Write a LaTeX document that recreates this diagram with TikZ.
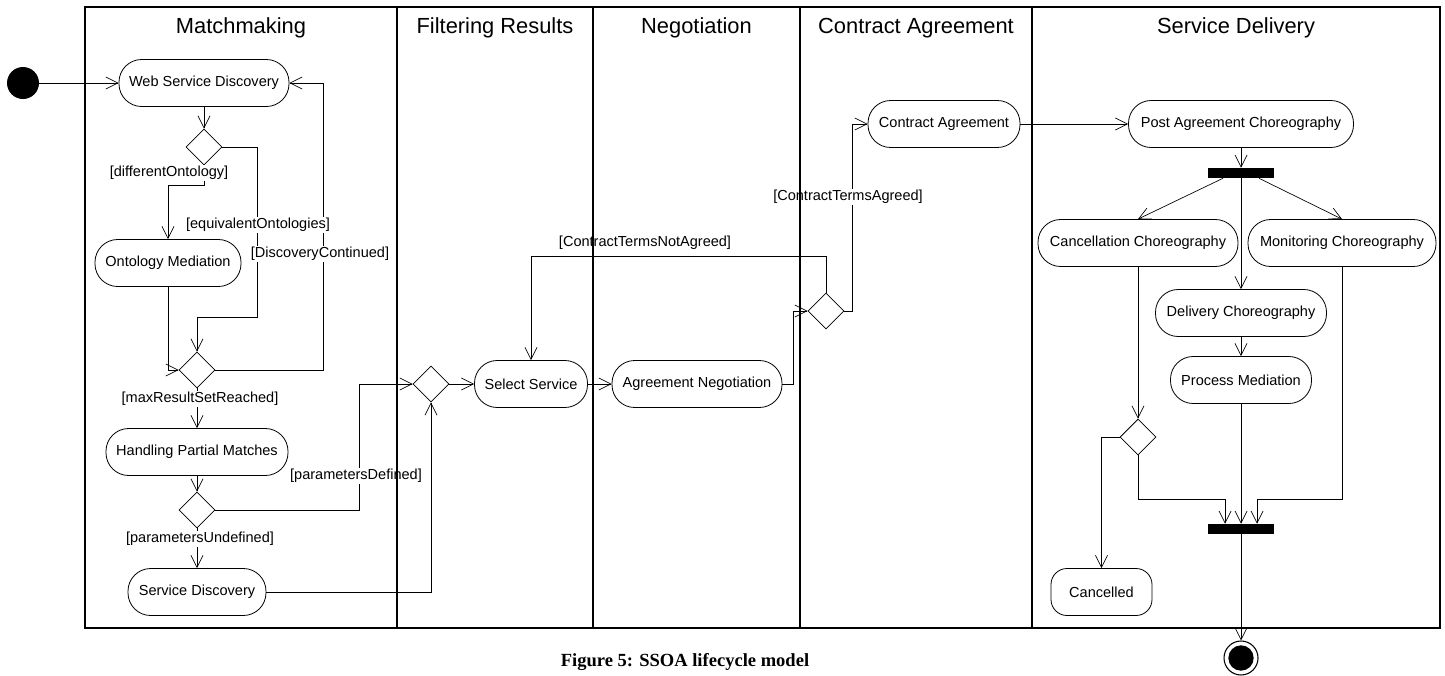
\documentclass[tikz,border=0pt]{standalone}
\usepackage{fontspec}
\setmainfont{Liberation Sans}
\newfontfamily\capfont{Liberation Serif}
\usetikzlibrary{shapes.geometric,arrows.meta}
\begin{document}
\begin{tikzpicture}[x=0.75pt,y=-0.75pt,
  act/.style={draw, fill=white, rounded corners=17pt, minimum height=35.25pt,
    minimum width={#1*0.75pt}, inner sep=0pt, line width=0.6pt,
    font=\fontsize{10.9}{12}\selectfont},
  dia/.style={draw, fill=white, diamond, aspect=1, minimum width=27pt,
    minimum height=27pt, inner sep=0pt, line width=0.6pt},
  bar/.style={fill=black, minimum width=50pt, minimum height=7.5pt, inner sep=0pt},
  conn/.style={-{Straight Barb[length=9pt,width=9pt]}, line width=0.5pt},
  guard/.style={fill=white, inner sep=0.6pt, font=\fontsize{10.9}{12}\selectfont},
  plain/.style={inner sep=0.6pt, font=\fontsize{10.9}{12}\selectfont},
  lanetitle/.style={font=\fontsize{16.4}{18}\selectfont},
  frame/.style={line width=1.3pt}
]
\useasboundingbox[fill=white] (0,0) rectangle (1445,675);

% start / end
\node[circle, fill=black, minimum size=24pt, inner sep=0pt] (init) at (23,83) {};
\node[circle, draw, minimum size=25.5pt, inner sep=0pt, line width=0.8pt, fill=white] (final) at (1241,658) {};
\fill (final.center) circle (9.5pt);

% activities
\node[act=170] (wsd) at (204,83) {Web Service Discovery};
\node[act=146] (om)  at (168,263) {Ontology Mediation};
\node[act=182] (hpm) at (197,452) {Handling Partial Matches};
\node[act=138] (sd)  at (197,592) {Service Discovery};
\node[act=113] (ss)  at (531,384) {Select Service};
\node[act=170] (an)  at (697,384) {Agreement Negotiation};
\node[act=152] (ca)  at (944,124) {Contract Agreement};
\node[act=225] (pac) at (1241,124) {Post Agreement Choreography};
\node[act=200] (cc)  at (1138,243) {Cancellation Choreography};
\node[act=188] (mc)  at (1342,243) {Monitoring Choreography};
\node[act=171] (dch) at (1241,313) {Delivery Choreography};
\node[act=141] (pm)  at (1241,380) {Process Mediation};
\node[act=101, rounded corners=12pt] (cn) at (1101.5,592) {Cancelled};

% decisions
\node[dia] (d1) at (204,147) {};
\node[dia] (d2) at (197,370) {};
\node[dia] (d3) at (197,510) {};
\node[dia] (df) at (431,384) {};
\node[dia] (dc) at (826,311) {};
\node[dia] (dd) at (1138,437) {};

% fork / join
\node[bar] (fork) at (1241,173) {};
\node[bar] (join) at (1241,529) {};

% connectors
\draw[conn] (init) -- (wsd.west);
\draw[conn] (wsd.south) -- (d1.north);
\draw[conn] (d1.south) -- (204,185) -| (om.north);
\draw[conn] (d1.east) -| (257,317) -| (d2.north);
\draw[conn] (om.south) |- (d2.west);
\draw[conn] (d2.east) -| (323,83) -- (wsd.east);
\draw[conn] (d2.south) -- (hpm.north);
\draw[conn] (hpm.south) -- (d3.north);
\draw[conn] (d3.east) -| (359,384) -- (df.west);
\draw[conn] (d3.south) -- (sd.north);
\draw[conn] (sd.east) -| (df.south);
\draw[conn] (df.east) -- (ss.west);
\draw[conn] (ss.east) -- (an.west);
\draw[conn] (an.east) -| (793,311) -- (dc.west);
\draw[conn] (dc.east) -| (852,124) -- (ca.west);
\draw[conn] (dc.north) |- (531,256) -- (ss.north);
\draw[conn] (ca.east) -- (pac.west);
\draw[conn] (pac.south) -- (fork.north);
\draw[conn] ([xshift=-13.5pt]fork.south) -- (cc.north);
\draw[conn] ([xshift=13.5pt]fork.south) -- (mc.north);
\draw[conn] (fork.south) -- (dch.north);
\draw[conn] (dch.south) -- (pm.north);
\draw[conn] (cc.south) -- (dd.north);
\draw[conn] (dd.west) -| (cn.north);
\draw[conn] (dd.south) -- (1138,499) -| ([xshift=-12pt]join.north);
\draw[conn] (pm.south) -- (join.north);
\draw[conn] (mc.south) -- (1342,499) -| ([xshift=12pt]join.north);
\draw[conn] (join.south) -- (final.north);

% guards
\node[guard] (g1) at (169,173) {[differentOntology]};
\node[guard] (g2) at (258,225) {[equivalentOntologies]};
\node[guard] (g3) at (320,254) {[DiscoveryContinued]};
\node[guard] (g4) at (200,399) {[maxResultSetReached]};
\node[guard] (g5) at (356,476) {[parametersDefined]};
\node[guard] (g6) at (200,539) {[parametersUndefined]};
\node[plain] (g7) at (645,243) {[ContractTermsNotAgreed]};
\node[guard] (g8) at (848,197) {[ContractTermsAgreed]};

% swimlanes
\draw[frame] (85,7) rectangle (1440,628);
\draw[frame] (397,7) -- (397,628);
\draw[frame] (593,7) -- (593,628);
\draw[frame] (800,7) -- (800,628);
\draw[frame] (1032,7) -- (1032,628);
\node[lanetitle] (t1) at (241,28) {Matchmaking};
\node[lanetitle] (t2) at (495,28) {Filtering Results};
\node[lanetitle] (t3) at (696.5,28) {Negotiation};
\node[lanetitle] (t4) at (916,28) {Contract Agreement};
\node[lanetitle] (t5) at (1236,28) {Service Delivery};

% caption
\node[font=\capfont\bfseries\fontsize{13.9}{16}\selectfont] (cap) at (685,662) {Figure 5: SSOA lifecycle model};
\end{tikzpicture}
\end{document}
